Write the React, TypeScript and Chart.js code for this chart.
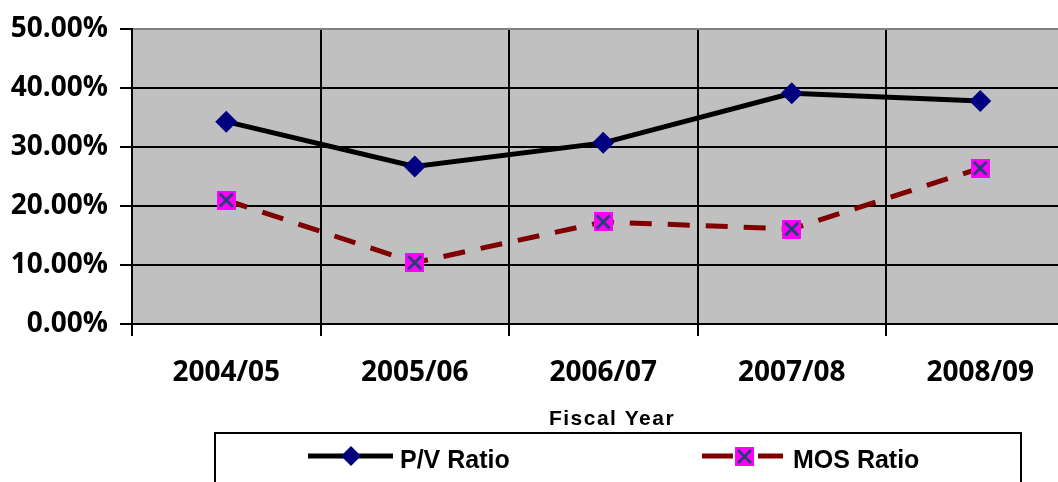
import React, { useEffect, useRef } from "react";
import { Chart, registerables } from "chart.js";

Chart.register(...registerables);

// Fiscal-year categories and the two ratios (in percent)
const fiscalYears = ["2004/05", "2005/06", "2006/07", "2007/08", "2008/09"];
const pvRatio = [34.3, 26.7, 30.7, 39.1, 37.8];
const mosRatio = [21.0, 10.4, 17.3, 16.1, 26.4];
const yTickValues = [0, 10, 20, 30, 40, 50];

const seriesNames = ["P/V Ratio", "MOS Ratio"];
const xAxisTitle = "Fiscal Year";

const PV_LINE = "#000000";
const PV_MARK = "#000080";
const MOS_LINE = "#800000";
const MOS_FILL = "#FF00FF";
const MOS_CROSS = "#17456A";
const PLOT_BG = "#C0C0C0";

const tickFont = { family: "'Open Sans', sans-serif", weight: "bold" as const, size: 28 };

// Magenta square with a dark cross, used as the MOS point marker
function makeCrossBox(size: number): HTMLCanvasElement {
  const c = document.createElement("canvas");
  c.width = size;
  c.height = size;
  const g = c.getContext("2d")!;
  g.fillStyle = MOS_FILL;
  g.fillRect(0, 0, size, size);
  g.strokeStyle = MOS_CROSS;
  g.lineWidth = 2.6;
  g.beginPath();
  g.moveTo(3, 3);
  g.lineTo(size - 3, size - 3);
  g.moveTo(size - 3, 3);
  g.lineTo(3, size - 3);
  g.stroke();
  return c;
}

function drawDiamond(ctx: CanvasRenderingContext2D, x: number, y: number, r: number) {
  ctx.beginPath();
  ctx.moveTo(x, y - r);
  ctx.lineTo(x + r, y);
  ctx.lineTo(x, y + r);
  ctx.lineTo(x - r, y);
  ctx.closePath();
  ctx.fillStyle = PV_MARK;
  ctx.fill();
}

export default function App() {
  const canvasRef = useRef<HTMLCanvasElement | null>(null);

  useEffect(() => {
    const canvas = canvasRef.current;
    if (!canvas) return;
    const crossBox = makeCrossBox(19);

    const plotBackground = {
      id: "plotBackground",
      beforeDraw(chart: any) {
        const { ctx, chartArea } = chart;
        ctx.save();
        ctx.fillStyle = PLOT_BG;
        ctx.fillRect(chartArea.left, chartArea.top, chartArea.right - chartArea.left, chartArea.bottom - chartArea.top);
        ctx.restore();
      },
    };

    // Axis title and boxed legend below the plot
    const bottomDecor = {
      id: "bottomDecor",
      afterDraw(chart: any) {
        const { ctx } = chart;
        ctx.save();
        // x-axis title
        ctx.fillStyle = "#000";
        ctx.font = "bold 21px 'Liberation Sans', Arial, sans-serif";
        (ctx as any).letterSpacing = "1.5px";
        ctx.textAlign = "center";
        ctx.textBaseline = "alphabetic";
        ctx.fillText(xAxisTitle, 612, 425);
        (ctx as any).letterSpacing = "0px";

        // legend frame
        ctx.strokeStyle = "#000";
        ctx.lineWidth = 2;
        ctx.strokeRect(215, 433, 806, 70);

        const ly = 456;
        // P/V Ratio entry
        ctx.strokeStyle = PV_LINE;
        ctx.lineWidth = 5;
        ctx.beginPath();
        ctx.moveTo(308, ly);
        ctx.lineTo(393, ly);
        ctx.stroke();
        drawDiamond(ctx, 351, ly, 10);

        // MOS Ratio entry
        ctx.strokeStyle = MOS_LINE;
        ctx.lineWidth = 5;
        ctx.beginPath();
        ctx.moveTo(702, ly);
        ctx.lineTo(733, ly);
        ctx.moveTo(758, ly);
        ctx.lineTo(783, ly);
        ctx.stroke();
        ctx.drawImage(crossBox, 735, ly - 9, 19, 19);

        ctx.fillStyle = "#000";
        ctx.font = "bold 25px 'Liberation Sans', Arial, sans-serif";
        ctx.textAlign = "left";
        ctx.fillText(seriesNames[0], 400, 468);
        ctx.fillText(seriesNames[1], 793, 468);
        ctx.restore();
      },
    };

    const chart = new Chart(canvas, {
      type: "line",
      data: {
        labels: fiscalYears,
        datasets: [
          {
            label: seriesNames[0],
            data: pvRatio,
            borderColor: PV_LINE,
            borderWidth: 5,
            pointStyle: "rectRot",
            pointRadius: 11,
            pointBackgroundColor: PV_MARK,
            pointBorderColor: PV_MARK,
            pointBorderWidth: 0,
            tension: 0,
          },
          {
            label: seriesNames[1],
            data: mosRatio,
            borderColor: MOS_LINE,
            borderWidth: 5,
            borderDash: [22, 16],
            pointStyle: crossBox,
            pointRadius: 10,
            tension: 0,
          },
        ],
      },
      options: {
        responsive: false,
        animation: false,
        events: [],
        layout: { padding: { left: 0, right: 25.5, top: 29, bottom: 0 } },
        plugins: {
          legend: { display: false },
          tooltip: { enabled: false },
          title: { display: false },
        },
        scales: {
          x: {
            offset: true,
            grid: {
              offset: true,
              color: "#000",
              tickColor: "#000",
              lineWidth: 2,
              tickLength: 12,
            },
            border: { color: "#000", width: 2 },
            ticks: {
              font: tickFont,
              color: "#000",
              padding: 20,
              maxRotation: 0,
              autoSkip: false,
            },
            afterFit: (s: any) => {
              s.height = 158;
            },
          },
          y: {
            min: yTickValues[0],
            max: yTickValues[yTickValues.length - 1],
            afterBuildTicks: (s: any) => {
              s.ticks = yTickValues.map((v) => ({ value: v }));
            },
            ticks: {
              font: tickFont,
              color: "#000",
              padding: 12,
              callback: (v: any) => Number(v).toFixed(2) + "%",
            },
            grid: {
              color: (c: any) => (c.tick && c.tick.value === 50 ? "#808080" : "#000"),
              tickColor: "#000",
              lineWidth: 2,
              tickLength: 12,
            },
            border: { color: "#000", width: 2 },
            afterFit: (s: any) => {
              s.width = 132;
            },
          },
        },
      },
      plugins: [plotBackground, bottomDecor],
    });

    return () => chart.destroy();
  }, []);

  return (
    <div
      style={{
        position: "fixed",
        left: 0,
        top: 0,
        width: 1058,
        height: 482,
        overflow: "hidden",
        background: "#fff",
      }}
    >
      <canvas ref={canvasRef} width={1100} height={482} style={{ display: "block" }} />
    </div>
  );
}
